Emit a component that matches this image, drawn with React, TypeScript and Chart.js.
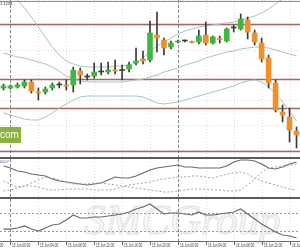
import React, { useEffect, useRef } from 'react';
import { Chart, registerables } from 'chart.js';

Chart.register(...registerables);

// ---------- categories (H1 candles) ----------
const times = [
  '14 Jun 23:00',
  '15 Jun 00:00', '15 Jun 01:00', '15 Jun 02:00', '15 Jun 03:00', '15 Jun 04:00', '15 Jun 05:00',
  '15 Jun 06:00', '15 Jun 07:00', '15 Jun 08:00', '15 Jun 09:00', '15 Jun 10:00', '15 Jun 11:00',
  '15 Jun 12:00', '15 Jun 13:00', '15 Jun 14:00', '15 Jun 15:00', '15 Jun 16:00', '15 Jun 17:00',
  '15 Jun 18:00', '15 Jun 19:00', '15 Jun 20:00', '15 Jun 21:00', '15 Jun 22:00', '15 Jun 23:00',
  '16 Jun 00:00', '16 Jun 01:00', '16 Jun 02:00', '16 Jun 03:00', '16 Jun 04:00', '16 Jun 05:00',
  '16 Jun 06:00', '16 Jun 07:00', '16 Jun 08:00', '16 Jun 09:00', '16 Jun 10:00', '16 Jun 11:00',
  '16 Jun 12:00', '16 Jun 13:00', '16 Jun 14:00', '16 Jun 15:00', '16 Jun 16:00', '16 Jun 17:00',
];

// time-axis tick labels and the candle index they sit on
const axisTickIndex = [-3, 1, 5, 9, 13, 17, 21, 25, 29, 33, 37, 41];
const axisTickText = [
  '14 Jun 20:00', '15 Jun 00:00', '15 Jun 04:00', '15 Jun 08:00', '15 Jun 12:00', '15 Jun 16:00',
  '15 Jun 20:00', '16 Jun 00:00', '16 Jun 04:00', '16 Jun 08:00', '16 Jun 12:00', '16 Jun 16:00',
];
const dayStartIndex = [1, 25];

// ---------- price candles ----------
const open = [
  1.12224, 1.12224, 1.12226, 1.12228, 1.12236, 1.12216, 1.12216, 1.12224, 1.12230, 1.12230,
  1.12230, 1.12258, 1.12246, 1.12248, 1.12256, 1.12256, 1.12260, 1.12260, 1.12262, 1.12274,
  1.12282, 1.12280, 1.12330, 1.12320, 1.12306, 1.12316, 1.12318, 1.12317, 1.12316, 1.12330,
  1.12314, 1.12323, 1.12318, 1.12344, 1.12342, 1.12360, 1.12334, 1.12314, 1.12284, 1.12234,
  1.12176, 1.12166, 1.12138,
];
const high = [
  1.12232, 1.12230, 1.12234, 1.12240, 1.12240, 1.12224, 1.12226, 1.12234, 1.12236, 1.12240,
  1.12266, 1.12264, 1.12252, 1.12274, 1.12274, 1.12276, 1.12280, 1.12270, 1.12276, 1.12304,
  1.12298, 1.12358, 1.12376, 1.12324, 1.12318, 1.12320, 1.12320, 1.12318, 1.12340, 1.12356,
  1.12328, 1.12328, 1.12344, 1.12350, 1.12372, 1.12366, 1.12340, 1.12324, 1.12290, 1.12240,
  1.12190, 1.12184, 1.12146,
];
const low = [
  1.12220, 1.12222, 1.12224, 1.12224, 1.12214, 1.12200, 1.12212, 1.12220, 1.12224, 1.12220,
  1.12216, 1.12232, 1.12240, 1.12244, 1.12250, 1.12252, 1.12252, 1.12240, 1.12256, 1.12270,
  1.12272, 1.12276, 1.12296, 1.12290, 1.12302, 1.12314, 1.12316, 1.12314, 1.12312, 1.12310,
  1.12312, 1.12314, 1.12316, 1.12336, 1.12340, 1.12322, 1.12310, 1.12276, 1.12224, 1.12176,
  1.12156, 1.12116, 1.12104,
];
const close = [
  1.12228, 1.12228, 1.12230, 1.12236, 1.12218, 1.12214, 1.12222, 1.12230, 1.12231, 1.12228,
  1.12260, 1.12250, 1.12247, 1.12256, 1.12257, 1.12260, 1.12258, 1.12259, 1.12270, 1.12278,
  1.12278, 1.12334, 1.12324, 1.12304, 1.12314, 1.12318, 1.12319, 1.12315, 1.12328, 1.12314,
  1.12326, 1.12321, 1.12342, 1.12345, 1.12362, 1.12336, 1.12316, 1.12282, 1.12234, 1.12180,
  1.12170, 1.12140, 1.12130,
];

// ---------- Bollinger bands ----------
const bbUpper = [
  1.12414, 1.12408, 1.12400, 1.12384, 1.12366, 1.12346, 1.12326, 1.12306, 1.12290, 1.12278,
  1.12272, 1.12268, 1.12266, 1.12266, 1.12266, 1.12266, 1.12268, 1.12268, 1.12270, 1.12274,
  1.12284, 1.12298, 1.12308, 1.12316, 1.12324, 1.12332, 1.12338, 1.12342, 1.12346, 1.12348,
  1.12350, 1.12352, 1.12354, 1.12356, 1.12360, 1.12364, 1.12368, 1.12374, 1.12382, 1.12392,
  1.12402, 1.12412, 1.12424,
];
const bbMiddle = [
  1.12294, 1.12290, 1.12286, 1.12284, 1.12280, 1.12276, 1.12272, 1.12266, 1.12258, 1.12248,
  1.12242, 1.12238, 1.12236, 1.12236, 1.12236, 1.12236, 1.12236, 1.12236, 1.12238, 1.12240,
  1.12242, 1.12246, 1.12250, 1.12256, 1.12260, 1.12264, 1.12270, 1.12274, 1.12278, 1.12284,
  1.12288, 1.12292, 1.12296, 1.12298, 1.12302, 1.12304, 1.12306, 1.12306, 1.12304, 1.12300,
  1.12296, 1.12292, 1.12288,
];
const bbLower = [
  1.12174, 1.12170, 1.12166, 1.12162, 1.12160, 1.12160, 1.12166, 1.12174, 1.12184, 1.12192,
  1.12200, 1.12206, 1.12208, 1.12208, 1.12208, 1.12208, 1.12208, 1.12208, 1.12208, 1.12208,
  1.12206, 1.12200, 1.12194, 1.12192, 1.12194, 1.12196, 1.12200, 1.12204, 1.12208, 1.12212,
  1.12216, 1.12220, 1.12224, 1.12228, 1.12234, 1.12238, 1.12240, 1.12236, 1.12226, 1.12214,
  1.12196, 1.12178, 1.12158,
];

// support / resistance levels
const priceLevels = [1.12352, 1.12242, 1.12184, 1.12098];

// ---------- ADX panel ----------
const adx = [
  31, 29, 26, 25, 23, 22, 21, 18, 16, 15, 14, 13, 12, 13, 14, 17, 20, 19, 19, 21, 24, 27,
  29, 30, 31, 32, 30, 30, 29, 29, 29, 29, 31, 35, 37, 37, 36, 33, 29, 28, 30, 33, 35,
];
const plusDI = [
  16, 13, 10, 11, 11, 10, 8, 7, 7, 8, 8, 8, 8, 7, 7, 7, 8, 10, 12, 13, 14, 15,
  17, 18, 19, 20, 20, 21, 21, 20, 19, 21, 23, 24, 25, 23, 19, 16, 14, 12, 10, 8, 7,
];
const minusDI = [
  6, 7, 9, 11, 14, 17, 20, 19, 17, 15, 13, 13, 13, 14, 14, 13, 12, 11, 10, 9, 8, 7,
  6, 5, 5, 6, 7, 8, 8, 8, 7, 7, 6, 6, 7, 12, 18, 25, 29, 30, 31, 32, 33,
];

// ---------- RSI panel ----------
const rsi = [
  34.4, 34.4, 36.7, 41.1, 34.4, 30.0, 36.7, 43.3, 45.6, 54.4,
  65.6, 58.9, 58.9, 61.1, 61.1, 63.3, 65.6, 67.8, 72.2, 78.9,
  83.3, 90.0, 78.9, 67.8, 70.0, 70.0, 67.8, 65.6, 72.2, 65.6,
  65.6, 67.8, 70.0, 72.2, 78.9, 67.8, 56.7, 45.6, 36.7, 27.8,
  21.1, 18.9, 14.4,
];
const rsiLevels = [70, 30];

const BULL = '#3fb83f';
const BEAR = '#f0902a';
const DOJI = '#3c3c3c';
const BAND = '#a6c6bc';

function baseOptions(yMin: number, yMax: number, padBottom = 0): any {
  return {
    responsive: false,
    animation: false,
    events: [],
    layout: { padding: { left: 0, right: 0, top: 0, bottom: padBottom } },
    plugins: { legend: { display: false }, tooltip: { enabled: false } },
    scales: {
      x: { type: 'category', offset: true, display: false },
      y: { type: 'linear', min: yMin, max: yMax, display: false },
    },
  };
}

function gridPlugin(cfg: { hStep?: number; levels?: number[]; levelColor?: string; levelWidth?: number; levelDash?: number[] }) {
  return {
    id: 'mt4grid',
    beforeDatasetsDraw(chart: any) {
      const { ctx, chartArea: a, scales } = chart;
      const x = scales.x;
      const y = scales.y;
      ctx.save();
      ctx.lineWidth = 1;
      ctx.strokeStyle = '#dcdcdc';
      ctx.setLineDash([1, 2]);
      if (cfg.hStep) {
        const start = Math.ceil(y.min / cfg.hStep) * cfg.hStep;
        for (let v = start; v <= y.max + 1e-12; v += cfg.hStep) {
          const py = Math.round(y.getPixelForValue(v)) + 0.5;
          ctx.beginPath();
          ctx.moveTo(a.left, py);
          ctx.lineTo(a.right, py);
          ctx.stroke();
        }
      }
      for (const idx of axisTickIndex) {
        const px = Math.round(x.getPixelForValue(idx)) + 0.5;
        ctx.beginPath();
        ctx.moveTo(px, a.top);
        ctx.lineTo(px, a.bottom);
        ctx.stroke();
      }
      ctx.strokeStyle = '#8a8a8a';
      ctx.setLineDash([3, 2]);
      for (const idx of dayStartIndex) {
        const px = Math.round(x.getPixelForValue(idx)) + 0.5;
        ctx.beginPath();
        ctx.moveTo(px, a.top);
        ctx.lineTo(px, a.bottom);
        ctx.stroke();
      }
      if (cfg.levels) {
        ctx.strokeStyle = cfg.levelColor || '#999';
        ctx.lineWidth = cfg.levelWidth || 1;
        ctx.setLineDash(cfg.levelDash || []);
        for (const v of cfg.levels) {
          const py = Math.round(y.getPixelForValue(v)) + 0.5;
          ctx.beginPath();
          ctx.moveTo(a.left, py);
          ctx.lineTo(a.right, py);
          ctx.stroke();
        }
      }
      ctx.restore();
    },
  };
}

const timeAxisPlugin = {
  id: 'mt4time',
  afterDraw(chart: any) {
    const { ctx, chartArea: a, scales } = chart;
    const x = scales.x;
    ctx.save();
    ctx.strokeStyle = '#6a6a6a';
    ctx.lineWidth = 1;
    ctx.beginPath();
    ctx.moveTo(0, a.bottom + 0.5);
    ctx.lineTo(chart.width, a.bottom + 0.5);
    ctx.stroke();
    ctx.fillStyle = '#3a3a3a';
    ctx.font = '4.5px "Liberation Sans", Arial, sans-serif';
    ctx.textBaseline = 'top';
    ctx.textAlign = 'left';
    axisTickIndex.forEach((idx, k) => {
      const px = Math.round(x.getPixelForValue(idx)) + 0.5;
      ctx.beginPath();
      ctx.moveTo(px, a.bottom);
      ctx.lineTo(px, a.bottom + 4);
      ctx.stroke();
      ctx.save();
      ctx.translate(px + 1.5, a.bottom + 2.5);
      ctx.scale(0.7, 1);
      ctx.fillText(axisTickText[k], 0, 0);
      ctx.restore();
    });
    ctx.restore();
  },
};

export default function App() {
  const mainRef = useRef<HTMLCanvasElement | null>(null);
  const adxRef = useRef<HTMLCanvasElement | null>(null);
  const rsiRef = useRef<HTMLCanvasElement | null>(null);

  useEffect(() => {
    const bodyColors = open.map((o, i) =>
      Math.abs(close[i] - o) < 0.000015 ? DOJI : close[i] >= o ? BULL : BEAR
    );

    const main = new Chart(mainRef.current as HTMLCanvasElement, {
      type: 'bar',
      data: {
        labels: times,
        datasets: [
          { type: 'line', data: bbUpper, borderColor: BAND, borderWidth: 1, pointRadius: 0, tension: 0, order: 3 } as any,
          { type: 'line', data: bbMiddle, borderColor: BAND, borderWidth: 1, pointRadius: 0, tension: 0, order: 3 } as any,
          { type: 'line', data: bbLower, borderColor: BAND, borderWidth: 1, pointRadius: 0, tension: 0, order: 3 } as any,
          {
            type: 'bar',
            data: low.map((l, i) => [l, high[i]]),
            backgroundColor: '#3a3a3a',
            barThickness: 1,
            grouped: false,
            order: 2,
          } as any,
          {
            type: 'bar',
            data: open.map((o, i) => [o, close[i]]),
            backgroundColor: bodyColors,
            barThickness: 5,
            grouped: false,
            minBarLength: 1,
            order: 1,
          } as any,
        ],
      },
      options: baseOptions(1.12086, 1.124),
      plugins: [gridPlugin({ hStep: 0.0005, levels: priceLevels, levelColor: '#a86565', levelWidth: 1.5 })],
    });

    const adxChart = new Chart(adxRef.current as HTMLCanvasElement, {
      type: 'line',
      data: {
        labels: times,
        datasets: [
          { data: plusDI, borderColor: '#a2a2a2', borderWidth: 1, borderDash: [2, 2], pointRadius: 0, tension: 0 },
          { data: minusDI, borderColor: '#a2a2a2', borderWidth: 1, borderDash: [2, 2], pointRadius: 0, tension: 0 },
          { data: adx, borderColor: '#6a6a6a', borderWidth: 1.2, pointRadius: 0, tension: 0 },
        ],
      },
      options: baseOptions(0, 38),
      plugins: [gridPlugin({})],
    });

    const rsiChart = new Chart(rsiRef.current as HTMLCanvasElement, {
      type: 'line',
      data: {
        labels: times,
        datasets: [{ data: rsi, borderColor: '#6a6a6a', borderWidth: 1.2, pointRadius: 0, tension: 0 }],
      },
      options: baseOptions(7.8, 101.1, 9),
      plugins: [gridPlugin({ levels: rsiLevels, levelColor: '#9a9a9a', levelWidth: 1, levelDash: [2, 2] }), timeAxisPlugin],
    });

    return () => {
      main.destroy();
      adxChart.destroy();
      rsiChart.destroy();
    };
  }, []);

  const abs = (top: number, height: number): React.CSSProperties => ({
    position: 'absolute', left: 0, top, width: 300, height, display: 'block',
  });

  return (
    <div style={{ position: 'absolute', left: 0, top: 0, width: 300, height: 250, background: '#ffffff', overflow: 'hidden' }}>
      <div
        style={{
          position: 'absolute', left: 84, top: 198, fontFamily: '"Liberation Serif", serif', fontStyle: 'italic',
          fontSize: 43, lineHeight: '43px', color: '#f8f8f8', WebkitTextStroke: '1px #e2e2e2', whiteSpace: 'nowrap',
        }}
      >
        SMCGroup
      </div>
      <canvas ref={mainRef} width={300} height={157} style={abs(0, 157)} />
      <div style={{ position: 'absolute', left: 0, top: 157, width: 300, height: 2, background: '#5c5c5c' }} />
      <canvas ref={adxRef} width={300} height={38} style={abs(159, 38)} />
      <div style={{ position: 'absolute', left: 0, top: 197, width: 300, height: 2, background: '#5c5c5c' }} />
      <canvas ref={rsiRef} width={300} height={51} style={abs(199, 51)} />
      <div style={{ position: 'absolute', left: 0, top: 1, width: 300, height: 1, background: '#8f8f8f' }} />
      <div
        style={{
          position: 'absolute', left: 0, top: 2, fontFamily: '"Liberation Sans", Arial, sans-serif', fontSize: 8,
          lineHeight: '8px', color: '#222', transform: 'scale(0.5)', transformOrigin: '0 0', whiteSpace: 'nowrap',
        }}
      >
        1.1234
      </div>
      <div
        style={{
          position: 'absolute', left: 0, top: 160, fontFamily: '"Liberation Sans", Arial, sans-serif', fontSize: 8,
          lineHeight: '8px', color: '#4a5f9a', transform: 'scale(0.5)', transformOrigin: '0 0', whiteSpace: 'nowrap',
        }}
      >
        0007
      </div>
      <div
        style={{
          position: 'absolute', left: 0, top: 127, width: 21, height: 16, background: '#8db141', color: '#ffffff',
          fontFamily: '"Liberation Sans", Arial, sans-serif', fontSize: 10, lineHeight: '16px', whiteSpace: 'nowrap',
          overflow: 'hidden',
        }}
      >
        com
      </div>
    </div>
  );
}
